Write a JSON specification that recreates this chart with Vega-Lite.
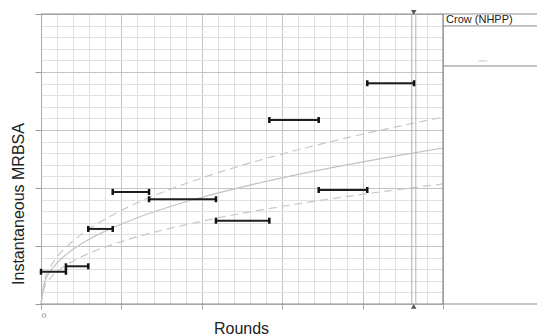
{
  "$schema": "https://vega.github.io/schema/vega-lite/v6.json",
  "width": 402,
  "height": 290,
  "autosize": {"type": "none"},
  "padding": {"left": 41, "top": 14, "right": 94, "bottom": 32},
  "background": "white",
  "config": {"view": {"stroke": null}, "font": "Liberation Sans"},
  "resolve": {"axis": {"x": "independent", "y": "independent"}},
  "datasets": {
    "segments": [
      {"start": 0, "end": 1.55, "mrbsa": 2.78},
      {"start": 1.55, "end": 2.94, "mrbsa": 3.25},
      {"start": 2.94, "end": 4.46, "mrbsa": 6.47},
      {"start": 4.46, "end": 6.72, "mrbsa": 9.66},
      {"start": 6.72, "end": 10.88, "mrbsa": 9.03},
      {"start": 10.88, "end": 14.2, "mrbsa": 7.18},
      {"start": 14.2, "end": 17.27, "mrbsa": 15.86},
      {"start": 17.27, "end": 20.29, "mrbsa": 9.83},
      {"start": 20.29, "end": 23.2, "mrbsa": 19.03}
    ],
    "curves": [
      {"series": "fit", "t": 0, "v": 0},
      {"series": "fit", "t": 0.25, "v": 1.99},
      {"series": "fit", "t": 0.5, "v": 2.65},
      {"series": "fit", "t": 1, "v": 3.54},
      {"series": "fit", "t": 2, "v": 4.72},
      {"series": "fit", "t": 3, "v": 5.58},
      {"series": "fit", "t": 4, "v": 6.28},
      {"series": "fit", "t": 6, "v": 7.44},
      {"series": "fit", "t": 8, "v": 8.38},
      {"series": "fit", "t": 10, "v": 9.2},
      {"series": "fit", "t": 13, "v": 10.25},
      {"series": "fit", "t": 16, "v": 11.18},
      {"series": "fit", "t": 19, "v": 12.0},
      {"series": "fit", "t": 22, "v": 12.75},
      {"series": "fit", "t": 25, "v": 13.45},
      {"series": "upper", "t": 0, "v": 0},
      {"series": "upper", "t": 0.25, "v": 2.22},
      {"series": "upper", "t": 0.5, "v": 3.0},
      {"series": "upper", "t": 1, "v": 4.04},
      {"series": "upper", "t": 2, "v": 5.44},
      {"series": "upper", "t": 3, "v": 6.48},
      {"series": "upper", "t": 4, "v": 7.33},
      {"series": "upper", "t": 6, "v": 8.73},
      {"series": "upper", "t": 8, "v": 9.87},
      {"series": "upper", "t": 10, "v": 10.86},
      {"series": "upper", "t": 13, "v": 12.16},
      {"series": "upper", "t": 16, "v": 13.3},
      {"series": "upper", "t": 19, "v": 14.32},
      {"series": "upper", "t": 22, "v": 15.25},
      {"series": "upper", "t": 25, "v": 16.11},
      {"series": "lower", "t": 0, "v": 0},
      {"series": "lower", "t": 0.25, "v": 1.6},
      {"series": "lower", "t": 0.5, "v": 2.11},
      {"series": "lower", "t": 1, "v": 2.8},
      {"series": "lower", "t": 2, "v": 3.71},
      {"series": "lower", "t": 3, "v": 4.38},
      {"series": "lower", "t": 4, "v": 4.92},
      {"series": "lower", "t": 6, "v": 5.8},
      {"series": "lower", "t": 8, "v": 6.52},
      {"series": "lower", "t": 10, "v": 7.14},
      {"series": "lower", "t": 13, "v": 7.94},
      {"series": "lower", "t": 16, "v": 8.64},
      {"series": "lower", "t": 19, "v": 9.26},
      {"series": "lower", "t": 22, "v": 9.83},
      {"series": "lower", "t": 25, "v": 10.35}
    ],
    "frame": [{"y": 0}, {"y": 25}],
    "marker": [{"x": 23.06}, {"x": 23.31}],
    "triangles": [
      {"x": 23.18, "y": 25.15, "shape": "triangle-down"},
      {"x": 23.18, "y": -0.2, "shape": "triangle-up"}
    ],
    "legendLines": [{"y": 23.97}, {"y": 20.52}],
    "legendText": [{"x": 25.19, "y": 24.48, "label": "Crow (NHPP)"}],
    "legendDash": [{"x": 27.2, "x2": 27.75, "y": 20.95}]
  },
  "layer": [
    {
      "data": {"name": "curves"},
      "transform": [{"filter": "datum.series === 'fit'"}],
      "mark": {"type": "line", "color": "#c2c2c2", "strokeWidth": 1.2, "interpolate": "monotone"},
      "encoding": {
        "x": {
          "field": "t", "type": "quantitative",
          "scale": {"domain": [0, 25], "nice": false, "zero": false},
          "axis": {
            "values": [0,1,2,3,4,5,6,7,8,9,10,11,12,13,14,15,16,17,18,19,20,21,22,23,24,25],
            "grid": true,
            "gridColor": {"condition": {"test": "datum.value % 5 === 0", "value": "#c4c4c4"}, "value": "#e0e0e0"},
            "gridWidth": 1,
            "tickSize": 5,
            "tickColor": "#aaa",
            "tickOpacity": {"condition": {"test": "datum.value % 5 === 0", "value": 1}, "value": 0},
            "labelExpr": "datum.value === 0 ? '0' : ''",
            "labelFont": "DejaVu Serif",
            "labelFontSize": 8,
            "labelColor": "#888",
            "labelPadding": 2,
            "domain": false,
            "title": "Rounds",
            "titleFont": "Liberation Sans",
            "titleFontSize": 16,
            "titleFontWeight": "normal",
            "titleColor": "#222",
            "titleX": 200,
            "titleY": 29,
            "titleBaseline": "alphabetic",
            "titleAlign": "center"
          }
        },
        "y": {
          "field": "v", "type": "quantitative",
          "scale": {"domain": [0, 25], "nice": false, "zero": false},
          "axis": {
            "values": [0,1,2,3,4,5,6,7,8,9,10,11,12,13,14,15,16,17,18,19,20,21,22,23,24,25],
            "grid": true,
            "gridColor": {"condition": {"test": "datum.value % 5 === 0", "value": "#c4c4c4"}, "value": "#e0e0e0"},
            "gridWidth": 1,
            "tickSize": 6,
            "tickColor": "#999",
            "tickOpacity": {"condition": {"test": "datum.value % 5 === 0", "value": 1}, "value": 0},
            "labels": false,
            "domain": true,
            "domainColor": "#aaa",
            "title": "Instantaneous MRBSA",
            "titleFont": "Liberation Sans",
            "titleFontSize": 16,
            "titleFontWeight": "normal",
            "titleColor": "#222",
            "titleAngle": -90,
            "titleX": -17.5,
            "titleY": 189.5,
            "titleBaseline": "alphabetic",
            "titleAlign": "center"
          }
        }
      }
    },
    {
      "data": {"name": "curves"},
      "transform": [{"filter": "datum.series !== 'fit'"}],
      "mark": {"type": "line", "color": "#c8c8c8", "strokeWidth": 1.2, "strokeDash": [8, 5], "interpolate": "monotone"},
      "encoding": {
        "x": {"field": "t", "type": "quantitative", "axis": null},
        "y": {"field": "v", "type": "quantitative", "axis": null},
        "detail": {"field": "series"}
      }
    },
    {
      "data": {"name": "frame"},
      "mark": {"type": "rule", "color": "#8a8a8a", "strokeWidth": 1},
      "encoding": {
        "y": {"field": "y", "type": "quantitative", "axis": null},
        "x": {"datum": 0, "axis": null},
        "x2": {"datum": 31}
      }
    },
    {
      "data": {"name": "frame"},
      "transform": [{"filter": "datum.y === 0"}],
      "mark": {"type": "rule", "color": "#777", "strokeWidth": 1},
      "encoding": {
        "x": {"datum": 25, "axis": null},
        "y": {"datum": 0, "axis": null},
        "y2": {"datum": 25}
      }
    },
    {
      "data": {"name": "marker"},
      "mark": {"type": "rule", "color": "#b5b5b5", "strokeWidth": 1},
      "encoding": {
        "x": {"field": "x", "type": "quantitative", "axis": null},
        "y": {"datum": 0, "axis": null},
        "y2": {"datum": 25}
      }
    },
    {
      "data": {"name": "triangles"},
      "mark": {"type": "point", "filled": true, "color": "#555", "size": 30, "opacity": 1},
      "encoding": {
        "x": {"field": "x", "type": "quantitative", "axis": null},
        "y": {"field": "y", "type": "quantitative", "axis": null},
        "shape": {"field": "shape", "type": "nominal", "scale": null, "legend": null}
      }
    },
    {
      "data": {"name": "segments"},
      "mark": {"type": "rule", "color": "#1e1e1e", "strokeWidth": 2},
      "encoding": {
        "x": {"field": "start", "type": "quantitative", "axis": null},
        "x2": {"field": "end"},
        "y": {"field": "mrbsa", "type": "quantitative", "axis": null}
      }
    },
    {
      "data": {"name": "segments"},
      "mark": {"type": "tick", "orient": "vertical", "color": "#111", "size": 6, "thickness": 2.5, "opacity": 1},
      "encoding": {
        "x": {"field": "start", "type": "quantitative", "axis": null},
        "y": {"field": "mrbsa", "type": "quantitative", "axis": null}
      }
    },
    {
      "data": {"name": "segments"},
      "mark": {"type": "tick", "orient": "vertical", "color": "#111", "size": 6, "thickness": 2.5, "opacity": 1},
      "encoding": {
        "x": {"field": "end", "type": "quantitative", "axis": null},
        "y": {"field": "mrbsa", "type": "quantitative", "axis": null}
      }
    },
    {
      "data": {"name": "legendLines"},
      "mark": {"type": "rule", "color": "#8a8a8a", "strokeWidth": 1},
      "encoding": {
        "y": {"field": "y", "type": "quantitative", "axis": null},
        "x": {"datum": 25, "axis": null},
        "x2": {"datum": 31}
      }
    },
    {
      "data": {"name": "legendText"},
      "mark": {"type": "text", "align": "left", "baseline": "middle", "font": "Liberation Sans", "fontSize": 11, "color": "#222"},
      "encoding": {
        "x": {"field": "x", "type": "quantitative", "axis": null},
        "y": {"field": "y", "type": "quantitative", "axis": null},
        "text": {"field": "label"}
      }
    },
    {
      "data": {"name": "legendDash"},
      "mark": {"type": "rule", "color": "#c8c8c8", "strokeWidth": 1},
      "encoding": {
        "x": {"field": "x", "type": "quantitative", "axis": null},
        "x2": {"field": "x2"},
        "y": {"field": "y", "type": "quantitative", "axis": null}
      }
    }
  ]
}
